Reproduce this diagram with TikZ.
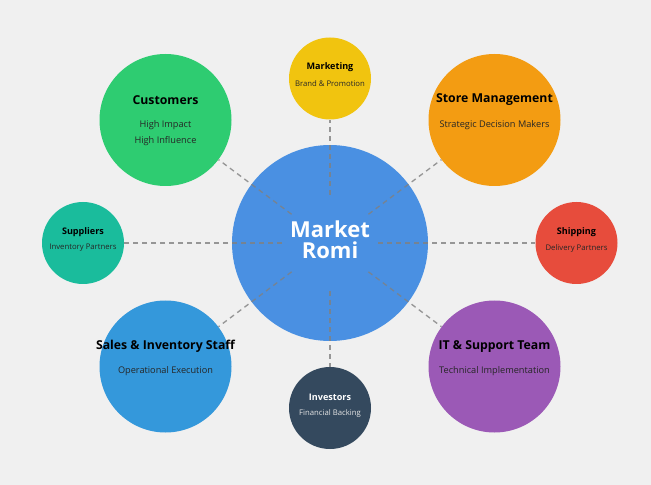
\documentclass[tikz,border=0pt]{standalone}
\usepackage{fontspec}
\setmainfont{Open Sans}
\usetikzlibrary{calc, positioning}
\definecolor{bgcol}{HTML}{F0F0F0}
\definecolor{hubcol}{HTML}{4A90E2}
\definecolor{custcol}{HTML}{2ECC71}
\definecolor{mktcol}{HTML}{F1C40F}
\definecolor{storecol}{HTML}{F39C12}
\definecolor{suppcol}{HTML}{1ABC9C}
\definecolor{shipcol}{HTML}{E74C3C}
\definecolor{salescol}{HTML}{3498DB}
\definecolor{itcol}{HTML}{9B59B6}
\definecolor{invcol}{HTML}{34495E}
\definecolor{linecol}{HTML}{808080}
\tikzset{
  bubble/.style={circle, inner sep=0pt},
  big/.style={bubble, minimum size=99pt},
  small/.style={bubble, minimum size=61.5pt},
  link/.style={linecol, opacity=0.8, line width=1pt, dash pattern=on 3.75pt off 3pt},
  ttl/.style={font=\bfseries\fontsize{9.2}{11}\selectfont, text=black, inner sep=0pt},
  sub/.style={font=\fontsize{6.9}{8}\selectfont, text=black!85, inner sep=0pt},
  sttl/.style={font=\bfseries\fontsize{6.8}{8}\selectfont, text=black, inner sep=0pt},
  ssub/.style={font=\fontsize{5.8}{7}\selectfont, text=black!85, inner sep=0pt}
}
\begin{document}
\begin{tikzpicture}[x=0.75pt, y=-0.75pt]
  \fill[bgcol] (0,0) rectangle (651,485);
  \useasboundingbox (0,0) rectangle (651,485);

  % cerchi
  \node[bubble, minimum size=147pt, fill=hubcol] (romi) at (330,243) {};
  \node[big, fill=custcol] (cust) at (165.5,120) {};
  \node[small, fill=mktcol] (mkt) at (330,78.5) {};
  \node[big, fill=storecol] (store) at (494.5,120) {};
  \node[small, fill=suppcol] (supp) at (83,243) {};
  \node[small, fill=shipcol] (ship) at (576.5,243) {};
  \node[big, fill=salescol] (sales) at (165.5,366.5) {};
  \node[big, fill=itcol] (it) at (494.5,366.5) {};
  \node[small, fill=invcol] (inv) at (330,408) {};

  % linee tratteggiate
  \foreach \n in {cust, mkt, store, supp, ship, sales, it, inv}
    \draw[link] ($(romi.center)!36pt!(\n.center)$) -- (\n);

  % testi
  \node[font=\bfseries\fontsize{16.5}{16}\selectfont, text=white, align=center, inner sep=0pt] (romi-t) at (330,240) {Market\\Romi};

  \node[ttl] (cust-t) at ($(cust)+(0,-20)$) {Customers};
  \node[sub] (cust-s) at ($(cust)+(0,5)$) {High Impact};
  \node[sub] (cust-s2) at ($(cust)+(0,21)$) {High Influence};

  \node[ttl] (store-t) at ($(store)+(0,-20)$) {Store Management};
  \node[sub] (store-s) at ($(store)+(0,5)$) {Strategic Decision Makers};

  \node[ttl] (sales-t) at ($(sales)+(0,-20)$) {Sales \& Inventory Staff};
  \node[sub] (sales-s) at ($(sales)+(0,5)$) {Operational Execution};

  \node[ttl] (it-t) at ($(it)+(0,-20)$) {IT \& Support Team};
  \node[sub] (it-s) at ($(it)+(0,5)$) {Technical Implementation};

  \node[sttl] (mkt-t) at ($(mkt)+(0,-11)$) {Marketing};
  \node[ssub] (mkt-s) at ($(mkt)+(0,5)$) {Brand \& Promotion};

  \node[sttl] (supp-t) at ($(supp)+(0,-11)$) {Suppliers};
  \node[ssub] (supp-s) at ($(supp)+(0,5)$) {Inventory Partners};

  \node[sttl] (ship-t) at ($(ship)+(0,-11)$) {Shipping};
  \node[ssub] (ship-s) at ($(ship)+(0,5)$) {Delivery Partners};

  \node[sttl, text=white] (inv-t) at ($(inv)+(0,-11)$) {Investors};
  \node[ssub, text=white!90!black] (inv-s) at ($(inv)+(0,5)$) {Financial Backing};
\end{tikzpicture}
\end{document}
